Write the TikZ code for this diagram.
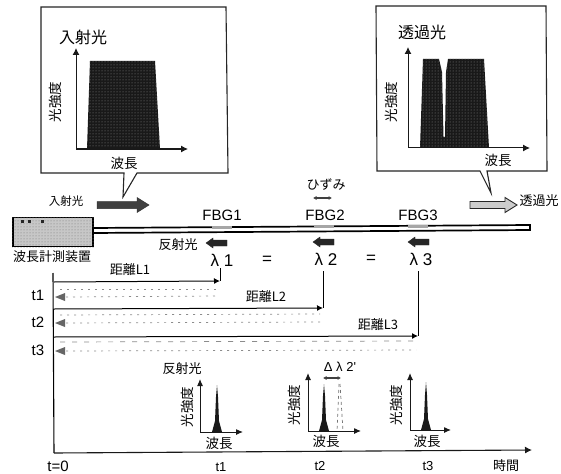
\documentclass[tikz,border=0pt]{standalone}
\usepackage{fontspec}
\usetikzlibrary{arrows.meta,patterns}
\setmainfont{Noto Sans CJK JP}
\newfontfamily\latinf{Liberation Sans}
\tikzset{
  x=1pt,y=-1pt,
  title/.style={inner sep=0pt,font=\fontsize{16}{17}\selectfont},
  lbl/.style={inner sep=0pt,font=\fontsize{13.5}{14}\selectfont},
  small/.style={inner sep=0pt,font=\fontsize{13}{14}\selectfont},
  tiny/.style={inner sep=0pt,font=\fontsize{11.5}{12}\selectfont},
  latin/.style={inner sep=0pt,font=\latinf\fontsize{15}{16}\selectfont},
  latins/.style={inner sep=0pt,font=\latinf\fontsize{13}{14}\selectfont},
  greek/.style={inner sep=0pt,font=\latinf\fontsize{17}{18}\selectfont},
  callout/.style={draw=black!85,line width=1.1pt,fill=white,line join=miter},
  axis/.style={draw=black!90,line width=1pt,-{Latex[length=7pt,width=7pt]}},
  smallaxis/.style={draw=black!90,line width=1pt,-{Latex[length=7pt,width=6pt]}},
  spec/.style={fill=black!90,draw=none},
  speckle/.style={pattern=dots,pattern color=white!55!black},
  route/.style={draw=black,line width=1pt,-{Latex[length=6pt,width=6pt]}},
  back/.style={draw=black!45,line width=0.7pt,dash pattern=on 2pt off 5pt},
  backtip/.style={fill=black!60,draw=none},
  bigarrow/.style={fill=black!75,draw=black!80,line width=0.5pt},
  reflarrow/.style={fill=black!85,draw=black!85,line width=0.4pt},
  twoway/.style={draw=black!75,line width=1.2pt,{Latex[length=3.5pt,width=4pt]}-{Latex[length=3.5pt,width=4pt]}},
}
\newcommand{\fatarrow}[6]{%
  \path[#6] (#1,#2-#5) -- (#3,#2-#5) -- (#3,#2-#5-4) -- (#4,#2) -- (#3,#2+#5+4) -- (#3,#2+#5) -- (#1,#2+#5) -- cycle;}
\newcommand{\peakshape}[3]{%
  \path[spec] (#1-5,#2) -- (#1-2,#2-11) -- (#1-1,#2-35) -- (#1,#3) -- (#1+1,#2-35) -- (#1+2,#2-11) -- (#1+5,#2) -- cycle;}
\begin{document}
\begin{tikzpicture}
\useasboundingbox (0,0) rectangle (561,473);
\fill[white] (0,0) rectangle (561,473);

% left callout
\draw[callout] (41,7) -- (226,7) -- (228,173) -- (137,173) -- (123,197) -- (124,173) -- (41,173) -- cycle;
\node[title] (inT) at (83,37) {入射光};
\coordinate (inO) at (76,149);
\coordinate (inY) at (76,48);
\coordinate (inX) at (188,149);
\path[spec] (87,149) -- (90,61) -- (155,61) -- (160,149) -- cycle;
\path[speckle] (87,149) -- (90,61) -- (155,61) -- (160,149) -- cycle;
\draw[axis] (inO) -- (inY);
\draw[axis] (inO) -- (inX);
\node[lbl,rotate=90] (inYL) at (55,102) {光強度};
\node[lbl] (inXL) at (124,163) {波長};

% right callout
\draw[callout] (376,6) -- (546,6) -- (547,171) -- (487,171) -- (491,193) -- (480,171) -- (377,171) -- cycle;
\node[title] (outT) at (422,32) {透過光};
\coordinate (outO) at (408,148);
\coordinate (outY) at (408,47);
\coordinate (outX) at (530,148);
\path[spec] (420,148) -- (423,59) -- (439,59) -- (442,72) -- (443.5,137) -- (445,137) -- (446,72) -- (448,59) -- (484,59) -- (489,148) -- cycle;
\path[speckle] (420,148) -- (423,59) -- (439,59) -- (442,72) -- (443.5,137) -- (445,137) -- (446,72) -- (448,59) -- (484,59) -- (489,148) -- cycle;
\draw[axis] (outO) -- (outY);
\draw[axis] (outO) -- (outX);
\node[lbl,rotate=90] (outYL) at (391,102) {光強度};
\node[lbl] (outXL) at (498,160) {波長};

% incoming / outgoing
\node[tiny] (inL) at (66,201) {入射光};
\fatarrow{97}{205}{137}{149}{3.5}{bigarrow}
\fatarrow{470}{205}{505}{517}{3.5}{draw=black!85,line width=0.9pt,fill=black!20}
\node[small] (outL) at (539,201) {透過光};

% device and fibre
\node[draw=black,line width=1.6pt,fill=black!22,minimum width=80pt,minimum height=29pt,inner sep=0pt] (dev) at (53,232) {};
\path[pattern=dots,pattern color=black!55] (dev.north west) rectangle (dev.south east);
\foreach \x in {21,28,41}{\fill[black!85] (\x,219.5) rectangle +(3,3);}
\node[small] (devL) at (52,257) {波長計測装置};
\path[fill=white,draw=black,line width=1.7pt] (93,228) -- (530,225) -- (530,230) -- (93,233) -- cycle;
\foreach \x/\y in {222/227.3,324/226.6,418/226}{\fill[black!35] (\x-10,\y-1.5) rectangle (\x+10,\y+1.5);}
\node[latin] (f1) at (222,215) {FBG1};
\node[latin] (f2) at (325,215) {FBG2};
\node[latin] (f3) at (418,215) {FBG3};
\node[small] (hiz) at (326,185) {ひずみ};
\coordinate (hizA) at (313,198); \coordinate (hizB) at (332,198);
\draw[twoway] (hizA) -- (hizB);

% reflected arrows
\foreach \x/\y in {206/243,313/242,408/242}{
  \path[reflarrow] (\x,\y) -- (\x+7,\y-5) -- (\x+7,\y-3) -- (\x+21,\y-3) -- (\x+21,\y+3) -- (\x+7,\y+3) -- (\x+7,\y+5) -- cycle;
}
\node[small] (rL) at (178,245) {反射光};
\node[greek] (l1) at (222,260) {λ 1};
\node[greek] (e1) at (267,260) {=};
\node[greek] (l2) at (326,259) {λ 2};
\node[greek] (e2) at (371,259) {=};
\node[greek] (l3) at (421,259) {λ 3};

% time diagram axes
\coordinate (O) at (54,453);
\coordinate (T) at (53,273);
\coordinate (X) at (532,450);
\draw[black,line width=1.1pt] (T) -- (O);
\draw[black!90,line width=1.1pt,-{Latex[length=7pt,width=7pt]}] (O) -- (X);
\node[latin] (t0) at (58,466) {t=0};
\node[latins] (tt1) at (221,467) {t1};
\node[latins] (tt2) at (320,466) {t2};
\node[latins] (tt3) at (428,466) {t3};
\node[small] (time) at (506,466) {時間};
\node[latin] (y1) at (38,295) {t1};
\node[latin] (y2) at (38,322) {t2};
\node[latin] (y3) at (38,350) {t3};

% routes
\coordinate (a1) at (54,282); \coordinate (b1) at (220,281); \coordinate (c1) at (220,268);
\coordinate (a2) at (54,309); \coordinate (b2) at (323,308); \coordinate (c2) at (323,271);
\coordinate (a3) at (54,337); \coordinate (b3) at (418,336); \coordinate (c3) at (418,271);
\draw[route] (a1) -- (b1);
\draw[route] (a2) -- (b2);
\draw[route] (a3) -- (b3);
\draw[black,line width=1pt] (c1) -- (b1);
\draw[black,line width=1pt] (c2) -- (b2);
\draw[black,line width=1pt] (c3) -- (b3);
\draw[back] (60,289) -- (218,289);
\draw[back] (66,297) -- (218,296);
\draw[back] (60,315) -- (320,314);
\draw[back] (66,323) -- (320,322);
\draw[back,dash pattern=on 5pt off 7pt] (60,342) -- (416,341);
\draw[back] (66,351) -- (416,350);
\path[backtip] (55,297) -- (65,293) -- (65,301) -- cycle;
\path[backtip] (55,323) -- (65,319) -- (65,327) -- cycle;
\path[backtip] (55,351) -- (65,347) -- (65,355) -- cycle;
\node[small] (d1) at (130,270) {距離L1};
\node[small] (d2) at (266,297) {距離L2};
\node[small] (d3) at (378,325) {距離L3};

% small plot 1
\node[small] (rT) at (182,369) {反射光};
\coordinate (g1O) at (200,432); \coordinate (g1Y) at (200,379); \coordinate (g1X) at (243,432);
\peakshape{217}{432}{385}
\draw[smallaxis] (g1O) -- (g1Y);
\draw[smallaxis] (g1O) -- (g1X);
\node[lbl,rotate=90] (g1YL) at (187,407) {光強度};
\node[lbl] (g1XL) at (219,443) {波長};

% small plot 2
\node[inner sep=0pt,font=\latinf\fontsize{13}{14}\selectfont] (dl) at (340,367) {Δ λ 2'};
\coordinate (g2O) at (308,431); \coordinate (g2Y) at (308,373); \coordinate (g2X) at (361,431);
\peakshape{324}{431}{384}
\draw[black!55,line width=0.7pt,dashed] (339,384) -- (337,431);
\draw[black!55,line width=0.7pt,dashed] (340,384) -- (343,431);
\draw[smallaxis] (g2O) -- (g2Y);
\draw[smallaxis] (g2O) -- (g2X);
\node[lbl,rotate=90] (g2YL) at (294,405) {光強度};
\node[lbl] (g2XL) at (326,441) {波長};
\coordinate (dA) at (323,378); \coordinate (dB) at (341,378);
\draw[twoway] (dA) -- (dB);

% small plot 3
\coordinate (g3O) at (410,430); \coordinate (g3Y) at (410,373); \coordinate (g3X) at (451,430);
\peakshape{426}{430}{382}
\draw[smallaxis] (g3O) -- (g3Y);
\draw[smallaxis] (g3O) -- (g3X);
\node[lbl,rotate=90] (g3YL) at (396,405) {光強度};
\node[lbl] (g3XL) at (427,441) {波長};
\end{tikzpicture}
\end{document}
